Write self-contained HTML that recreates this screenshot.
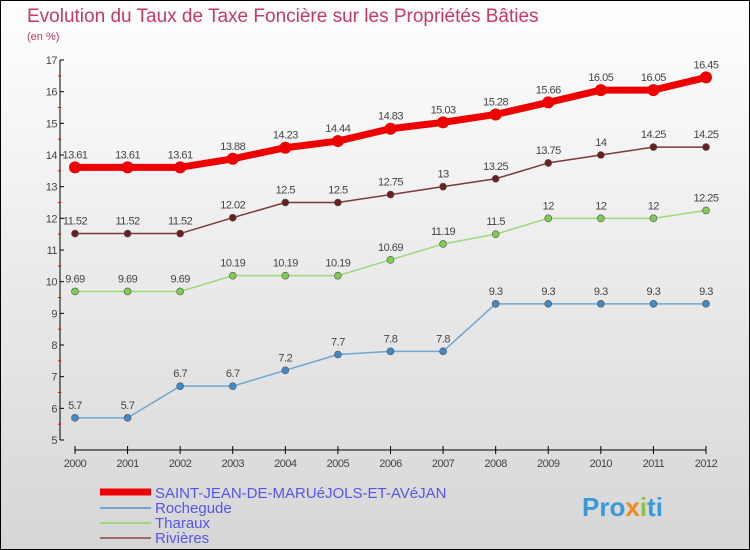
<!DOCTYPE html>
<html><head><meta charset="utf-8"><style>
body{margin:0}
#c{width:750px;height:550px;position:relative;box-sizing:border-box;border:1px solid #000;background:linear-gradient(#ffffff,#d6d6d6);font-family:"Liberation Sans",sans-serif;overflow:hidden}
</style></head><body>
<div id="c">
<svg id="s" width="750" height="550" style="position:absolute;left:-1px;top:-1px" font-family="Liberation Sans, sans-serif">
<text x="27" y="22" font-size="19" fill="#c8366a">Evolution du Taux de Taxe Foncière sur les Propriétés Bâties</text>
<text x="27" y="40" font-size="11" fill="#c8366a">(en %)</text>
<g id="axes"></g><g id="series"></g>
<g>
<line x1="100" y1="492" x2="151" y2="492" stroke="#ee0000" stroke-width="7"/>
<text x="155" y="498" font-size="15" fill="#5555ee">SAINT-JEAN-DE-MARUéJOLS-ET-AVéJAN</text>
<line x1="100" y1="508" x2="151" y2="508" stroke="#6fa5cf" stroke-width="2"/>
<text x="155" y="513" font-size="15" fill="#5555ee">Rochegude</text>
<line x1="100" y1="523" x2="151" y2="523" stroke="#9fd87a" stroke-width="2"/>
<text x="155" y="528" font-size="15" fill="#5555ee">Tharaux</text>
<line x1="100" y1="538" x2="151" y2="538" stroke="#9a6a6a" stroke-width="2"/>
<text x="155" y="543" font-size="15" fill="#5555ee">Rivières</text>
</g>
<text x="582" y="516" font-size="26" font-weight="bold" fill="#3a9ad9">Pro<tspan fill="#f08a1a">x</tspan><tspan fill="#8ac540">i</tspan>ti</text>
</svg>
</div>
<script>
const years=[2000,2001,2002,2003,2004,2005,2006,2007,2008,2009,2010,2011,2012];
const yTicks=[5,6,7,8,9,10,11,12,13,14,15,16,17];
const saintJean=[13.61,13.61,13.61,13.88,14.23,14.44,14.83,15.03,15.28,15.66,16.05,16.05,16.45];
const rochegude=[5.7,5.7,6.7,6.7,7.2,7.7,7.8,7.8,9.3,9.3,9.3,9.3,9.3];
const tharaux=[9.69,9.69,9.69,10.19,10.19,10.19,10.69,11.19,11.5,12,12,12,12.25];
const rivieres=[11.52,11.52,11.52,12.02,12.5,12.5,12.75,13,13.25,13.75,14,14.25,14.25];
const NS="http://www.w3.org/2000/svg";
const xS=i=>75+i*(706-75)/(years.length-1);
const yS=v=>440-(v-5)*380/12;
function mk(tag,attrs,parent){const e=document.createElementNS(NS,tag);for(const k in attrs)e.setAttribute(k,attrs[k]);parent.appendChild(e);return e;}
const ax=document.getElementById('axes');
let a=mk('line',{x1:60,y1:60,x2:60,y2:440,stroke:'#000'},ax);


a=mk('line',{x1:75,y1:450,x2:706,y2:450,stroke:'#000'},ax);


yTicks.forEach(v=>{
  mk('line',{x1:60,y1:yS(v),x2:64,y2:yS(v),stroke:'#000'},ax);
  if(v<17)mk('line',{x1:58,y1:yS(v+0.5),x2:61,y2:yS(v+0.5),stroke:'#f00'},ax);
  const t=mk('text',{x:57,y:yS(v)+4,'font-size':11,fill:'#444','text-anchor':'end','letter-spacing':'-0.5'},ax);
  t.textContent=v;
  
  
});
years.forEach((y,i)=>{
  mk('line',{x1:xS(i),y1:446,x2:xS(i),y2:454,stroke:'#000'},ax);
  const t=mk('text',{x:xS(i),y:467,'font-size':11,fill:'#444','text-anchor':'middle','letter-spacing':'-0.5'},ax);
  t.textContent=y;
  
  
});
const sg=document.getElementById('series');
function draw(vals,color,dot,w,r,name){
  const g=mk('g',{},sg);
  
  
  const p=mk('polyline',{points:vals.map((v,i)=>xS(i)+','+yS(v)).join(' '),fill:'none',stroke:color,'stroke-width':w,'stroke-linejoin':'round'},g);
  
  
  vals.forEach((v,i)=>{
    const c=mk('circle',{cx:xS(i),cy:yS(v),r:r,fill:dot,stroke:dot==color?'none':'#555','stroke-width':0.6},g);
    
    
    const t=mk('text',{x:xS(i),y:yS(v)-9,'font-size':11,fill:'#444','text-anchor':'middle','letter-spacing':'-0.5'},g);
    t.textContent=String(v).replace('.','.');
    
    
  });
}
draw(rochegude,'#6fa5cf','#3f8ac8',1.5,3.5,'rochegude');
draw(tharaux,'#9fd87a','#7fcc50',1.5,3.5,'tharaux');
draw(rivieres,'#7a3a3a','#6a2020',1.5,3.5,'rivieres');
draw(saintJean,'#ee0000','#ee0000',7,6,'saint-jean');
</script>
</body></html>
